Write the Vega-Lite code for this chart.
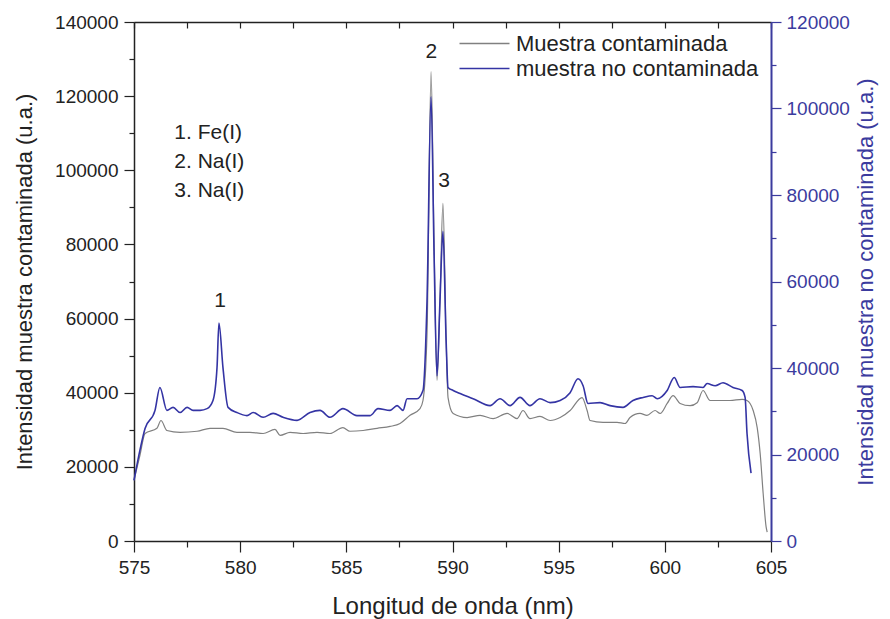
{
  "$schema": "https://vega.github.io/schema/vega-lite/v6.json",
  "width": 637,
  "height": 519,
  "autosize": {"type": "none"},
  "padding": {"left": 134, "top": 22, "right": 119, "bottom": 78},
  "background": "white",
  "config": {
    "font": "Liberation Sans",
    "view": {"stroke": null},
    "axis": {"grid": false, "labelFont": "Liberation Sans", "titleFont": "Liberation Sans", "titleFontWeight": "normal", "labelColor": "#222222", "titleColor": "#222222", "domainColor": "#222222", "tickColor": "#222222"}
  },
  "datasets": {
    "espectro": [
      {"s": "Muestra contaminada", "nm": 575.00, "v": 16400},
      {"s": "Muestra contaminada", "nm": 575.28, "v": 23100},
      {"s": "Muestra contaminada", "nm": 575.52, "v": 29000},
      {"s": "Muestra contaminada", "nm": 576.08, "v": 30400},
      {"s": "Muestra contaminada", "nm": 576.27, "v": 32500},
      {"s": "Muestra contaminada", "nm": 576.55, "v": 29800},
      {"s": "Muestra contaminada", "nm": 577.17, "v": 29300},
      {"s": "Muestra contaminada", "nm": 577.97, "v": 29600},
      {"s": "Muestra contaminada", "nm": 578.58, "v": 30400},
      {"s": "Muestra contaminada", "nm": 579.19, "v": 30400},
      {"s": "Muestra contaminada", "nm": 579.85, "v": 29300},
      {"s": "Muestra contaminada", "nm": 580.46, "v": 29300},
      {"s": "Muestra contaminada", "nm": 581.08, "v": 29000},
      {"s": "Muestra contaminada", "nm": 581.64, "v": 30100},
      {"s": "Muestra contaminada", "nm": 581.88, "v": 28500},
      {"s": "Muestra contaminada", "nm": 582.35, "v": 29300},
      {"s": "Muestra contaminada", "nm": 582.96, "v": 29000},
      {"s": "Muestra contaminada", "nm": 583.62, "v": 29300},
      {"s": "Muestra contaminada", "nm": 584.23, "v": 29000},
      {"s": "Muestra contaminada", "nm": 584.84, "v": 30600},
      {"s": "Muestra contaminada", "nm": 585.17, "v": 29600},
      {"s": "Muestra contaminada", "nm": 585.79, "v": 29800},
      {"s": "Muestra contaminada", "nm": 586.45, "v": 30400},
      {"s": "Muestra contaminada", "nm": 587.06, "v": 30900},
      {"s": "Muestra contaminada", "nm": 587.53, "v": 31700},
      {"s": "Muestra contaminada", "nm": 588.00, "v": 33900},
      {"s": "Muestra contaminada", "nm": 588.47, "v": 35700},
      {"s": "Muestra contaminada", "nm": 588.61, "v": 37900},
      {"s": "Muestra contaminada", "nm": 588.80, "v": 55900},
      {"s": "Muestra contaminada", "nm": 588.99, "v": 126600},
      {"s": "Muestra contaminada", "nm": 589.13, "v": 80900},
      {"s": "Muestra contaminada", "nm": 589.27, "v": 43300},
      {"s": "Muestra contaminada", "nm": 589.41, "v": 64800},
      {"s": "Muestra contaminada", "nm": 589.55, "v": 91100},
      {"s": "Muestra contaminada", "nm": 589.70, "v": 54000},
      {"s": "Muestra contaminada", "nm": 589.79, "v": 38700},
      {"s": "Muestra contaminada", "nm": 590.03, "v": 34400},
      {"s": "Muestra contaminada", "nm": 590.69, "v": 33300},
      {"s": "Muestra contaminada", "nm": 591.30, "v": 33900},
      {"s": "Muestra contaminada", "nm": 591.91, "v": 33000},
      {"s": "Muestra contaminada", "nm": 592.57, "v": 34400},
      {"s": "Muestra contaminada", "nm": 593.04, "v": 33000},
      {"s": "Muestra contaminada", "nm": 593.32, "v": 35200},
      {"s": "Muestra contaminada", "nm": 593.65, "v": 33000},
      {"s": "Muestra contaminada", "nm": 594.12, "v": 33600},
      {"s": "Muestra contaminada", "nm": 594.60, "v": 32500},
      {"s": "Muestra contaminada", "nm": 595.07, "v": 33300},
      {"s": "Muestra contaminada", "nm": 595.54, "v": 35200},
      {"s": "Muestra contaminada", "nm": 596.10, "v": 38700},
      {"s": "Muestra contaminada", "nm": 596.34, "v": 35200},
      {"s": "Muestra contaminada", "nm": 596.48, "v": 32500},
      {"s": "Muestra contaminada", "nm": 597.09, "v": 32000},
      {"s": "Muestra contaminada", "nm": 597.75, "v": 32000},
      {"s": "Muestra contaminada", "nm": 598.13, "v": 31700},
      {"s": "Muestra contaminada", "nm": 598.36, "v": 33300},
      {"s": "Muestra contaminada", "nm": 598.83, "v": 34400},
      {"s": "Muestra contaminada", "nm": 599.16, "v": 33900},
      {"s": "Muestra contaminada", "nm": 599.54, "v": 35200},
      {"s": "Muestra contaminada", "nm": 599.78, "v": 34400},
      {"s": "Muestra contaminada", "nm": 600.11, "v": 37100},
      {"s": "Muestra contaminada", "nm": 600.39, "v": 39200},
      {"s": "Muestra contaminada", "nm": 600.72, "v": 37100},
      {"s": "Muestra contaminada", "nm": 601.19, "v": 36500},
      {"s": "Muestra contaminada", "nm": 601.52, "v": 37300},
      {"s": "Muestra contaminada", "nm": 601.80, "v": 40600},
      {"s": "Muestra contaminada", "nm": 602.13, "v": 37900},
      {"s": "Muestra contaminada", "nm": 602.60, "v": 37900},
      {"s": "Muestra contaminada", "nm": 603.07, "v": 37900},
      {"s": "Muestra contaminada", "nm": 603.64, "v": 38200},
      {"s": "Muestra contaminada", "nm": 603.87, "v": 37900},
      {"s": "Muestra contaminada", "nm": 604.16, "v": 35200},
      {"s": "Muestra contaminada", "nm": 604.35, "v": 30600},
      {"s": "Muestra contaminada", "nm": 604.49, "v": 23600},
      {"s": "Muestra contaminada", "nm": 604.63, "v": 12900},
      {"s": "Muestra contaminada", "nm": 604.77, "v": 3800},
      {"s": "Muestra contaminada", "nm": 604.82, "v": 2400},
      {"s": "muestra no contaminada", "nm": 575.00, "v": 14000},
      {"s": "muestra no contaminada", "nm": 575.28, "v": 21000},
      {"s": "muestra no contaminada", "nm": 575.52, "v": 26000},
      {"s": "muestra no contaminada", "nm": 575.99, "v": 30200},
      {"s": "muestra no contaminada", "nm": 576.22, "v": 35500},
      {"s": "muestra no contaminada", "nm": 576.55, "v": 30200},
      {"s": "muestra no contaminada", "nm": 576.84, "v": 30900},
      {"s": "muestra no contaminada", "nm": 577.17, "v": 29700},
      {"s": "muestra no contaminada", "nm": 577.50, "v": 30900},
      {"s": "muestra no contaminada", "nm": 577.78, "v": 30200},
      {"s": "muestra no contaminada", "nm": 578.11, "v": 30200},
      {"s": "muestra no contaminada", "nm": 578.44, "v": 30600},
      {"s": "muestra no contaminada", "nm": 578.72, "v": 32500},
      {"s": "muestra no contaminada", "nm": 578.91, "v": 40100},
      {"s": "muestra no contaminada", "nm": 579.00, "v": 50400},
      {"s": "muestra no contaminada", "nm": 579.19, "v": 40100},
      {"s": "muestra no contaminada", "nm": 579.43, "v": 30900},
      {"s": "muestra no contaminada", "nm": 579.85, "v": 29700},
      {"s": "muestra no contaminada", "nm": 580.32, "v": 29000},
      {"s": "muestra no contaminada", "nm": 580.61, "v": 29700},
      {"s": "muestra no contaminada", "nm": 581.08, "v": 28600},
      {"s": "muestra no contaminada", "nm": 581.55, "v": 29500},
      {"s": "muestra no contaminada", "nm": 582.02, "v": 28600},
      {"s": "muestra no contaminada", "nm": 582.68, "v": 27900},
      {"s": "muestra no contaminada", "nm": 583.29, "v": 29700},
      {"s": "muestra no contaminada", "nm": 583.76, "v": 30200},
      {"s": "muestra no contaminada", "nm": 584.23, "v": 28600},
      {"s": "muestra no contaminada", "nm": 584.84, "v": 30600},
      {"s": "muestra no contaminada", "nm": 585.50, "v": 29000},
      {"s": "muestra no contaminada", "nm": 586.12, "v": 29000},
      {"s": "muestra no contaminada", "nm": 586.49, "v": 30600},
      {"s": "muestra no contaminada", "nm": 587.06, "v": 30200},
      {"s": "muestra no contaminada", "nm": 587.39, "v": 31300},
      {"s": "muestra no contaminada", "nm": 587.67, "v": 30200},
      {"s": "muestra no contaminada", "nm": 587.86, "v": 32900},
      {"s": "muestra no contaminada", "nm": 588.33, "v": 32900},
      {"s": "muestra no contaminada", "nm": 588.61, "v": 34800},
      {"s": "muestra no contaminada", "nm": 588.80, "v": 55500},
      {"s": "muestra no contaminada", "nm": 588.99, "v": 102700},
      {"s": "muestra no contaminada", "nm": 589.13, "v": 67000},
      {"s": "muestra no contaminada", "nm": 589.27, "v": 38200},
      {"s": "muestra no contaminada", "nm": 589.41, "v": 55500},
      {"s": "muestra no contaminada", "nm": 589.55, "v": 71600},
      {"s": "muestra no contaminada", "nm": 589.70, "v": 46300},
      {"s": "muestra no contaminada", "nm": 589.79, "v": 35500},
      {"s": "muestra no contaminada", "nm": 590.03, "v": 34800},
      {"s": "muestra no contaminada", "nm": 590.36, "v": 34100},
      {"s": "muestra no contaminada", "nm": 590.97, "v": 32900},
      {"s": "muestra no contaminada", "nm": 591.77, "v": 31300},
      {"s": "muestra no contaminada", "nm": 592.24, "v": 32900},
      {"s": "muestra no contaminada", "nm": 592.71, "v": 31300},
      {"s": "muestra no contaminada", "nm": 593.18, "v": 33200},
      {"s": "muestra no contaminada", "nm": 593.65, "v": 31300},
      {"s": "muestra no contaminada", "nm": 594.12, "v": 32900},
      {"s": "muestra no contaminada", "nm": 594.60, "v": 32000},
      {"s": "muestra no contaminada", "nm": 595.07, "v": 32500},
      {"s": "muestra no contaminada", "nm": 595.54, "v": 34300},
      {"s": "muestra no contaminada", "nm": 595.91, "v": 37500},
      {"s": "muestra no contaminada", "nm": 596.15, "v": 35900},
      {"s": "muestra no contaminada", "nm": 596.38, "v": 31800},
      {"s": "muestra no contaminada", "nm": 596.95, "v": 32000},
      {"s": "muestra no contaminada", "nm": 597.42, "v": 31300},
      {"s": "muestra no contaminada", "nm": 598.03, "v": 30900},
      {"s": "muestra no contaminada", "nm": 598.50, "v": 32500},
      {"s": "muestra no contaminada", "nm": 598.98, "v": 33200},
      {"s": "muestra no contaminada", "nm": 599.40, "v": 33600},
      {"s": "muestra no contaminada", "nm": 599.64, "v": 32900},
      {"s": "muestra no contaminada", "nm": 600.11, "v": 34800},
      {"s": "muestra no contaminada", "nm": 600.44, "v": 37800},
      {"s": "muestra no contaminada", "nm": 600.72, "v": 35500},
      {"s": "muestra no contaminada", "nm": 601.33, "v": 35700},
      {"s": "muestra no contaminada", "nm": 601.80, "v": 35500},
      {"s": "muestra no contaminada", "nm": 601.99, "v": 36400},
      {"s": "muestra no contaminada", "nm": 602.37, "v": 35900},
      {"s": "muestra no contaminada", "nm": 602.74, "v": 36600},
      {"s": "muestra no contaminada", "nm": 603.21, "v": 35500},
      {"s": "muestra no contaminada", "nm": 603.64, "v": 34800},
      {"s": "muestra no contaminada", "nm": 603.78, "v": 33200},
      {"s": "muestra no contaminada", "nm": 603.87, "v": 24900},
      {"s": "muestra no contaminada", "nm": 604.06, "v": 15700}
    ],
    "picos": [
      {"nm": 579.05, "v": 64800, "t": "1"},
      {"nm": 589.0, "v": 132000, "t": "2"},
      {"nm": 589.6, "v": 97000, "t": "3"}
    ],
    "lineas": [
      {"nm": 576.9, "v": 110000, "t": "1. Fe(I)"},
      {"nm": 576.9, "v": 102200, "t": "2. Na(I)"},
      {"nm": 576.9, "v": 94400, "t": "3. Na(I)"}
    ]
  },
  "layer": [
    {
      "data": {"name": "espectro"},
      "transform": [{"filter": "datum.s === 'Muestra contaminada'"}],
      "mark": {"type": "line", "strokeWidth": 1.2, "interpolate": "monotone"},
      "encoding": {
        "x": {
          "field": "nm", "type": "quantitative",
          "scale": {"domain": [575, 605], "nice": false, "zero": false},
          "axis": {
            "orient": "bottom",
            "title": "Longitud de onda (nm)", "titleFontSize": 24, "titlePadding": 17,
            "values": [575, 577.5, 580, 582.5, 585, 587.5, 590, 592.5, 595, 597.5, 600, 602.5, 605],
            "labelExpr": "datum.value % 5 === 0 ? datum.label : ''",
            "labelFontSize": 19, "labelPadding": 6, "labelFlush": false,
            "tickSize": {"condition": {"test": "datum.value % 5 === 0", "value": 11}, "value": 6},
            "tickWidth": 1.2, "domainWidth": 1.5
          }
        },
        "y": {
          "field": "v", "type": "quantitative",
          "scale": {"domain": [0, 140000], "nice": false},
          "axis": {
            "orient": "left",
            "title": "Intensidad muestra contaminada (u.a.)", "titleFontSize": 22, "titlePadding": 18,
            "values": [0, 10000, 20000, 30000, 40000, 50000, 60000, 70000, 80000, 90000, 100000, 110000, 120000, 130000, 140000],
            "labelExpr": "datum.value % 20000 === 0 ? format(datum.value, 'd') : ''",
            "labelFontSize": 19, "labelPadding": 6,
            "tickSize": {"condition": {"test": "datum.value % 20000 === 0", "value": 10}, "value": 5},
            "tickWidth": 1.2, "domainWidth": 1.5
          }
        },
        "color": {
          "field": "s", "type": "nominal",
          "scale": {"domain": ["Muestra contaminada", "muestra no contaminada"], "range": ["#808080", "#3434a4"]},
          "legend": {
            "orient": "none", "legendX": 337, "legendY": 8, "title": null,
            "symbolType": "M-2,0H2", "symbolSize": 625, "symbolStrokeWidth": 1.5,
            "labelFontSize": 22, "labelColor": "#222222", "labelOffset": 18, "rowPadding": 0,
            "labelFont": "Liberation Sans", "labelLimit": 0
          }
        }
      }
    },
    {
      "data": {"name": "espectro"},
      "transform": [{"filter": "datum.s === 'muestra no contaminada'"}],
      "mark": {"type": "line", "strokeWidth": 1.6, "interpolate": "monotone"},
      "encoding": {
        "x": {"field": "nm", "type": "quantitative", "axis": null},
        "y": {
          "field": "v", "type": "quantitative",
          "scale": {"domain": [0, 120000], "nice": false},
          "axis": {
            "orient": "right",
            "title": "Intensidad muestra no contaminada (u.a.)", "titleFontSize": 22, "titlePadding": 28, "titleAngle": 270,
            "titleColor": "#3b3b9e", "labelColor": "#3b3b9e", "domainColor": "#3b3b9e", "tickColor": "#3b3b9e",
            "values": [0, 10000, 20000, 30000, 40000, 50000, 60000, 70000, 80000, 90000, 100000, 110000, 120000],
            "labelExpr": "datum.value % 20000 === 0 ? format(datum.value, 'd') : ''",
            "labelFontSize": 19, "labelPadding": 5,
            "tickSize": {"condition": {"test": "datum.value % 20000 === 0", "value": 10}, "value": 5},
            "tickWidth": 1.2, "domainWidth": 2
          }
        },
        "color": {"field": "s", "type": "nominal"}
      }
    },
    {
      "data": {"name": "picos"},
      "mark": {"type": "text", "fontSize": 21, "color": "#222222", "font": "Liberation Sans", "baseline": "middle", "align": "center"},
      "encoding": {
        "x": {
          "field": "nm", "type": "quantitative",
          "axis": {
            "orient": "top", "title": null, "labels": false,
            "values": [575, 577.5, 580, 582.5, 585, 587.5, 590, 592.5, 595, 597.5, 600, 602.5, 605],
            "tickSize": -6, "tickWidth": 1.2, "domainWidth": 1.5
          }
        },
        "y": {"field": "v", "type": "quantitative", "scale": {"domain": [0, 140000], "nice": false}, "axis": null},
        "text": {"field": "t"}
      }
    },
    {
      "data": {"name": "lineas"},
      "mark": {"type": "text", "fontSize": 21, "color": "#222222", "font": "Liberation Sans", "baseline": "middle", "align": "left"},
      "encoding": {
        "x": {"field": "nm", "type": "quantitative", "axis": null},
        "y": {"field": "v", "type": "quantitative", "scale": {"domain": [0, 140000], "nice": false}, "axis": null},
        "text": {"field": "t"}
      }
    }
  ],
  "resolve": {"scale": {"y": "independent"}, "axis": {"x": "independent"}}
}
